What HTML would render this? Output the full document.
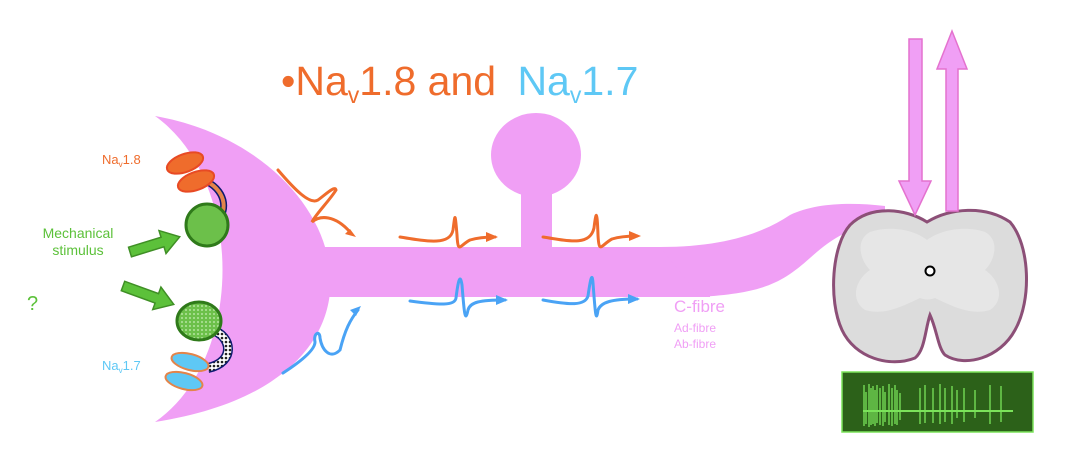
<!DOCTYPE html>
<html><head><meta charset="utf-8"><style>
html,body{margin:0;padding:0;background:#fff;}
svg{display:block;font-family:"Liberation Sans",Arial,sans-serif;}
</style></head><body>
<svg width="1088" height="462" viewBox="0 0 1088 462">
  <defs>
    <pattern id="dots" width="4" height="4" patternUnits="userSpaceOnUse"><rect width="4" height="4" fill="#fff"/><circle cx="2" cy="2" r="1.3" fill="#222"/></pattern>
    <pattern id="gdots" width="4" height="4" patternUnits="userSpaceOnUse"><rect width="4" height="4" fill="#6cc04a"/><circle cx="2" cy="2" r="0.9" fill="#c9efb8"/></pattern>
  </defs>
  <g fill="#f09ff5">
    <path d="M155,116 C350,150 425,380 155,422 C245,360 245,180 155,116 Z"/>
    <rect x="300" y="247" width="410" height="50"/>
    <path d="M660,247 C720,247 760,235 790,215 C815,203 850,202 885,206 L885,222 C850,226 830,240 810,258 C780,285 760,293 700,297 Z"/>
    <ellipse cx="536" cy="155" rx="45" ry="42"/>
    <rect x="521" y="185" width="31" height="64"/>
  </g>
  <text x="281" y="95" font-size="41" fill="#ef6c2c">•Na<tspan font-size="23" dy="8">v</tspan><tspan dy="-8">1.8 and </tspan><tspan fill="#5ec8f5" dx="10">Na</tspan><tspan fill="#5ec8f5" font-size="23" dy="8">v</tspan><tspan fill="#5ec8f5" dy="-8">1.7</tspan></text>
  <text x="102" y="164" font-size="13" fill="#ef6c2c">Na<tspan font-size="8" dy="3">v</tspan><tspan dy="-3">1.8</tspan></text>
  <text x="102" y="370" font-size="13" fill="#5ec8f5">Na<tspan font-size="8" dy="3">v</tspan><tspan dy="-3">1.7</tspan></text>
  <text x="78" y="238" font-size="14" fill="#5cc13a" text-anchor="middle">Mechanical</text>
  <text x="78" y="255" font-size="14" fill="#5cc13a" text-anchor="middle">stimulus</text>
  <text x="27" y="310" font-size="20" fill="#5cc13a">?</text>
  <g fill="#5cc13a" stroke="#3f8f25" stroke-width="1.5">
    <path transform="translate(130,252) rotate(-17)" d="M0,-5 L34,-5 L34,-12 L52,0 L34,12 L34,5 L0,5 Z"/>
    <path transform="translate(123,286) rotate(20)" d="M0,-5 L36,-5 L36,-12 L54,0 L36,12 L36,5 L0,5 Z"/>
  </g>
  <g>
    <path d="M190,177 C218,180 228,200 222,214" fill="none" stroke="#0d1a6e" stroke-width="7"/>
    <path d="M190,177 C218,180 228,200 222,214" fill="none" stroke="#e3844a" stroke-width="4"/>
    <ellipse cx="185" cy="163" rx="19" ry="9" transform="rotate(-20 185 163)" fill="#ef6c2c" stroke="#e84a24" stroke-width="2"/>
    <ellipse cx="196" cy="181" rx="19" ry="9" transform="rotate(-20 196 181)" fill="#ef6c2c" stroke="#e84a24" stroke-width="2"/>
    <circle cx="207" cy="225" r="21" fill="#6cc04a" stroke="#2f7a1a" stroke-width="3"/>
  </g>
  <g>
    <path d="M212,330 C232,336 236,362 208,368" fill="none" stroke="#0d1a6e" stroke-width="10"/>
    <path d="M212,330 C232,336 236,362 208,368" fill="none" stroke="url(#dots)" stroke-width="7"/>
    <ellipse cx="199" cy="321" rx="22" ry="19" fill="url(#gdots)" stroke="#2f7a1a" stroke-width="3"/>
    <ellipse cx="190" cy="362" rx="19" ry="8" transform="rotate(15 190 362)" fill="#5ec8f5" stroke="#e3844a" stroke-width="2"/>
    <ellipse cx="184" cy="381" rx="19" ry="8" transform="rotate(15 184 381)" fill="#5ec8f5" stroke="#e3844a" stroke-width="2"/>
  </g>
  <g fill="none" stroke="#ef6c2c" stroke-width="3" stroke-linecap="round">
    <path d="M278,170 C295,190 310,205 318,200 C325,195 335,185 336,190 C330,200 315,215 312,222 C320,215 335,215 350,232"/>
    <path d="M400,237 C430,242 450,245 453,230 C455,215 455,210 457,235 C458,255 460,245 470,240 C480,237 490,237 495,237"/>
    <path d="M543,237 C573,242 590,245 594,228 C596,212 597,208 598,235 C599,255 601,245 612,239 C622,236 632,236 637,236"/>
  </g>
  <g fill="#ef6c2c">
    <path d="M356,237 L345,234 L350,229 Z"/>
    <path d="M498,237 L486,232 L486,242 Z"/>
    <path d="M641,236 L629,231 L629,241 Z"/>
  </g>
  <g fill="none" stroke="#4aa3f5" stroke-width="3" stroke-linecap="round">
    <path d="M283,373 C300,362 315,350 315,342 C313,333 320,330 320,338 C322,350 330,360 340,350 C345,330 350,320 358,310"/>
    <path d="M410,301 C440,305 455,306 456,298 C458,282 460,272 462,285 C464,310 465,325 468,310 C470,302 480,300 505,300"/>
    <path d="M543,300 C570,305 585,306 588,296 C590,282 592,270 593,283 C595,310 596,325 598,310 C601,302 612,299 637,299"/>
  </g>
  <g fill="#4aa3f5">
    <path d="M361,306 L350,310 L356,316 Z"/>
    <path d="M508,300 L496,295 L496,305 Z"/>
    <path d="M640,299 L628,294 L628,304 Z"/>
  </g>
  <text x="674" y="312" font-size="17" fill="#f09ff5">C-fibre</text>
  <text x="674" y="332" font-size="12" fill="#f09ff5">Ad-fibre</text>
  <text x="674" y="348" font-size="12" fill="#f09ff5">Ab-fibre</text>
  <g>
    <path d="M927,222 C950,208 985,205 1010,222 C1030,245 1032,300 1015,330 C1000,358 965,368 945,355 C938,348 937,330 930,315 C925,330 925,350 915,358 C890,368 855,358 842,330 C828,300 832,245 850,225 C870,205 905,208 927,222 Z" fill="#dcdcdc" stroke="#8c4f77" stroke-width="3"/>
    <path d="M927,240 C940,230 965,225 985,232 C1000,240 995,260 985,270 C1000,280 1005,300 990,310 C970,316 950,305 935,298 C930,300 925,300 920,298 C905,305 885,316 865,310 C850,300 855,280 870,270 C860,260 855,240 870,232 C890,225 915,230 927,240 Z" fill="#e6e6e6"/>
    <circle cx="930" cy="271" r="4.5" fill="#fff" stroke="#000" stroke-width="2"/>
  </g>
  <g fill="#f09ff5" stroke="#e472cf" stroke-width="1.5">
    <path d="M909,39 L922,39 L922,181 L931,181 L915,215 L899,181 L909,181 Z"/>
  </g>
  <g fill="#f09ff5" stroke="#e472cf" stroke-width="1.5">
    <path d="M946,211 L958,211 L958,69 L967,69 L952,31 L937,69 L946,69 Z"/>
  </g>
  <g>
    <rect x="842" y="372" width="191" height="60" fill="#2c6119" stroke="#7be35a" stroke-width="1.5"/>
    <line x1="863" y1="411" x2="1013" y2="411" stroke="#7be35a" stroke-width="2"/>
    <g stroke="#7be35a" stroke-width="1.3">
      <line x1="864" y1="385" x2="864" y2="426"/><line x1="866" y1="392" x2="866" y2="424"/><line x1="869" y1="384" x2="869" y2="427"/><line x1="871" y1="388" x2="871" y2="425"/><line x1="873" y1="386" x2="873" y2="424"/><line x1="875" y1="390" x2="875" y2="426"/><line x1="877" y1="385" x2="877" y2="423"/><line x1="880" y1="388" x2="880" y2="425"/><line x1="883" y1="386" x2="883" y2="426"/><line x1="885" y1="392" x2="885" y2="422"/><line x1="889" y1="384" x2="889" y2="425"/><line x1="892" y1="388" x2="892" y2="426"/><line x1="895" y1="385" x2="895" y2="424"/><line x1="897" y1="390" x2="897" y2="425"/><line x1="900" y1="393" x2="900" y2="420"/><line x1="920" y1="388" x2="920" y2="424"/><line x1="925" y1="385" x2="925" y2="423"/><line x1="933" y1="388" x2="933" y2="423"/><line x1="940" y1="384" x2="940" y2="424"/><line x1="945" y1="388" x2="945" y2="422"/><line x1="952" y1="386" x2="952" y2="424"/><line x1="957" y1="390" x2="957" y2="418"/><line x1="964" y1="388" x2="964" y2="422"/><line x1="975" y1="390" x2="975" y2="418"/><line x1="990" y1="385" x2="990" y2="424"/><line x1="1001" y1="386" x2="1001" y2="422"/>
    </g>
  </g>
</svg>
</body></html>
